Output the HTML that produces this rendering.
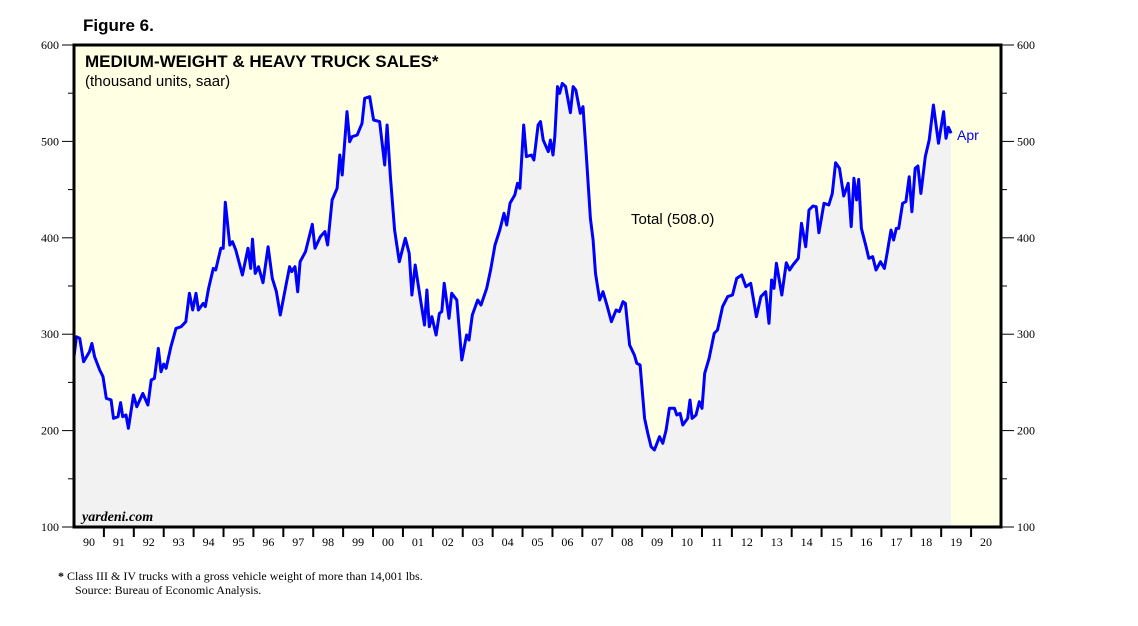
<!DOCTYPE html>
<html><head><meta charset="utf-8"><style>
html,body{margin:0;padding:0;background:#fff;}
body{width:1138px;height:621px;overflow:hidden;}
</style></head><body>
<svg id="chart" width="1138" height="621" xmlns="http://www.w3.org/2000/svg">
<text x="83" y="31" font-family="Liberation Sans, sans-serif" font-weight="bold" font-size="17">Figure 6.</text>
<rect x="74" y="45" width="927" height="482" fill="#ffffe4"/>
<g id="area"></g>
<g id="axes"></g>
<rect x="74" y="45" width="927" height="482" fill="none" stroke="#000" stroke-width="3"/>
<text x="85" y="67" font-family="Liberation Sans, sans-serif" font-weight="bold" font-size="17">MEDIUM-WEIGHT &amp; HEAVY TRUCK SALES*</text>
<text x="85" y="86" font-family="Liberation Sans, sans-serif" font-size="15">(thousand units, saar)</text>
<text x="631" y="224" font-family="Liberation Sans, sans-serif" font-size="15">Total (508.0)</text>
<text x="957" y="140" font-family="Liberation Sans, sans-serif" font-size="14" fill="#0000ff">Apr</text>
<text x="82" y="521" font-family="Liberation Serif, serif" font-style="italic" font-weight="bold" font-size="14">yardeni.com</text>
<text x="58" y="580" font-family="Liberation Serif, serif" font-size="12"><tspan font-weight="bold">*</tspan>   Class III &amp; IV trucks with a gross vehicle weight of more than 14,001 lbs.</text>
<text x="75" y="594" font-family="Liberation Serif, serif" font-size="12">Source: Bureau of Economic Analysis.</text>
</svg>
<script>
const dates=[
1990.0,1990.08,1990.19,1990.32,1990.52,1990.6,1990.69,1990.86,1990.97,1991.08,
1991.24,1991.32,1991.47,1991.56,1991.63,1991.74,1991.82,1991.99,1992.1,1992.3,
1992.47,1992.58,1992.69,1992.82,1992.91,1993.0,1993.08,1993.24,1993.41,1993.58,
1993.74,1993.86,1993.97,1994.08,1994.16,1994.32,1994.39,1994.5,1994.66,1994.74,
1994.91,1994.99,1995.06,1995.21,1995.3,1995.41,1995.63,1995.82,1995.91,1995.97,
1996.06,1996.17,1996.32,1996.49,1996.63,1996.77,1996.9,1997.08,1997.21,1997.28,
1997.39,1997.48,1997.56,1997.74,1997.97,1998.06,1998.24,1998.39,1998.48,1998.63,
1998.8,1998.89,1998.97,1999.13,1999.22,1999.3,1999.47,1999.63,1999.72,1999.89,
2000.02,2000.22,2000.39,2000.47,2000.58,2000.72,2000.88,2001.08,2001.21,2001.3,
2001.41,2001.58,2001.72,2001.8,2001.88,2001.97,2002.11,2002.22,2002.3,2002.38,
2002.54,2002.63,2002.8,2002.97,2003.13,2003.21,2003.32,2003.5,2003.61,2003.8,
2003.93,2004.08,2004.24,2004.38,2004.47,2004.58,2004.74,2004.83,2004.91,2005.04,
2005.13,2005.3,2005.38,2005.52,2005.6,2005.69,2005.86,2005.93,2006.02,2006.08,
2006.17,2006.24,2006.33,2006.44,2006.6,2006.69,2006.78,2006.93,2007.02,2007.13,
2007.27,2007.36,2007.44,2007.58,2007.69,2007.82,2007.97,2008.13,2008.24,2008.36,
2008.44,2008.58,2008.74,2008.82,2008.93,2009.08,2009.19,2009.3,2009.41,2009.58,
2009.69,2009.8,2009.91,2010.08,2010.16,2010.27,2010.36,2010.52,2010.6,2010.67,
2010.8,2010.91,2011.0,2011.09,2011.24,2011.41,2011.52,2011.69,2011.86,2012.02,
2012.16,2012.33,2012.47,2012.63,2012.82,2012.97,2013.13,2013.24,2013.33,2013.41,
2013.49,2013.67,2013.82,2013.93,2014.04,2014.22,2014.33,2014.47,2014.58,2014.71,
2014.82,2014.91,2015.08,2015.24,2015.36,2015.47,2015.6,2015.74,2015.89,2015.99,
2016.08,2016.17,2016.24,2016.33,2016.49,2016.58,2016.71,2016.82,2016.97,2017.1,
2017.19,2017.32,2017.41,2017.5,2017.58,2017.71,2017.82,2017.93,2018.02,2018.13,
2018.22,2018.32,2018.47,2018.6,2018.74,2018.91,2019.08,2019.16,2019.24,2019.33];
const sales=[
276.7,297.4,295.7,271.5,281.9,290.5,276.7,262.9,256,233.5,
231.8,212.7,214.4,229,214.4,216.2,202.4,236.9,224.8,238.6,
226.6,252.5,254.2,285.3,261.1,269.1,264.6,287,306,307.8,
313,342.4,325.1,342.4,325.1,332,328.6,347.6,368.3,366.6,
389.1,389.1,436.8,392.5,396,387.3,361.4,389.1,368.3,398.7,
363.1,370,353.4,390.8,358,344.1,319.9,349.3,370,364.9,
370,344.1,375.2,385.6,414,389.1,401.2,406.4,392.5,439.2,
451.3,485.9,465.1,530.9,499.7,504.9,506.6,518.7,544.7,546.4,
522.2,520.5,475.5,517,463.4,408.1,375.2,399.5,383.9,340.7,
371.8,337.2,309.5,345.9,307.8,318.2,299.2,321.6,323.4,352.8,
316.5,342.4,335.5,273.2,299.2,294,319.9,335.5,330.3,347.6,
366.6,392.5,408.1,425.4,413.3,435.8,444.4,456.5,451.3,517,
484.2,485.9,480.7,517,520.5,501.5,489.4,501.5,485.9,504.9,
556.8,549.9,560.2,556.8,529.8,556.8,553.3,529.1,536,487.6,
420.2,397.7,363.1,335.5,344.1,330.3,313,325.1,323.4,333.7,
332,288.8,278.3,269.8,268.1,212.7,197.2,183.3,179.9,193.7,
186.8,200.6,223.1,223.1,216.2,217.9,205.8,212.7,231.7,212.7,
216.2,230,223.1,259.4,275,300.9,304.4,328.6,339,340.7,
357.9,361.4,349.3,352.8,318.2,339,344.1,311.3,356.2,347.6,
373.5,340.7,374.2,366.6,371.8,378.7,415,390.8,428.8,433,
432.3,405.3,435.8,434,446.1,477.9,472.1,443.4,456.5,411.6,
461.7,439.2,460.6,409.8,390.8,378.7,380.4,366.6,375.2,368.3,
383.9,408.1,397.7,409.8,409.8,435.8,437.5,463.4,427.1,472.1,
474.5,446.1,484.2,501.5,537.8,498,530.9,503.2,514.6,508.4];
const yTicks=[100,200,300,400,500,600];
const yMinor=[150,250,350,450,550];
const yearLabels=["90","91","92","93","94","95","96","97","98","99","00","01","02","03","04","05","06","07","08","09","10","11","12","13","14","15","16","17","18","19","20"];

const NS="http://www.w3.org/2000/svg";
const x0=74,x1=1001,y0=527,y1=45;
const xs=t=>x0+(t-1990)*(x1-x0)/31;
const ys=v=>y0-(v-100)*(y0-y1)/500;
function mk(tag,attrs,parent){const e=document.createElementNS(NS,tag);for(const k in attrs)e.setAttribute(k,attrs[k]);parent.appendChild(e);return e;}
const area=document.getElementById('area'),axes=document.getElementById('axes');
const n=Math.min(dates.length,sales.length);
const pts=[];
for(let i=0;i<n;i++) pts.push(xs(dates[i]).toFixed(1)+','+ys(sales[i]).toFixed(1));
const fill=mk('path',{d:'M'+xs(dates[0]).toFixed(1)+','+y0+' L'+pts.join(' L')+' L'+xs(dates[n-1]).toFixed(1)+','+y0+' Z',fill:'#f2f2f2'},area);


const line=mk('polyline',{points:pts.join(' '),fill:'none',stroke:'#0000ff','stroke-width':'3','stroke-linejoin':'round'},area);


yTicks.forEach(v=>{
  const y=ys(v);
  const g=mk('g',{},axes);
  
  
  mk('line',{x1:62,x2:74,y1:y,y2:y,stroke:'#000','stroke-width':1},g);
  mk('line',{x1:1001,x2:1014,y1:y,y2:y,stroke:'#000','stroke-width':1},g);
  const tl=mk('text',{x:59,y:y+4,'text-anchor':'end','font-family':'Liberation Serif, serif','font-size':12},g);tl.textContent=v;
  const tr=mk('text',{x:1017,y:y+4,'font-family':'Liberation Serif, serif','font-size':12},g);tr.textContent=v;
});
yMinor.forEach(v=>{
  const y=ys(v);
  const g=mk('g',{},axes);
  
  
  mk('line',{x1:68,x2:74,y1:y,y2:y,stroke:'#000','stroke-width':1},g);
  mk('line',{x1:1001,x2:1007,y1:y,y2:y,stroke:'#000','stroke-width':1},g);
});
yearLabels.forEach((lab,i)=>{
  const g=mk('g',{},axes);
  
  
  const xt=xs(1990+i);
  if(i>0) mk('line',{x1:xt,x2:xt,y1:527,y2:537,stroke:'#000','stroke-width':2},g);
  const t=mk('text',{x:xs(1990.5+i),y:546,'text-anchor':'middle','font-family':'Liberation Serif, serif','font-size':12},g);t.textContent=lab;
});
</script>
</body></html>
